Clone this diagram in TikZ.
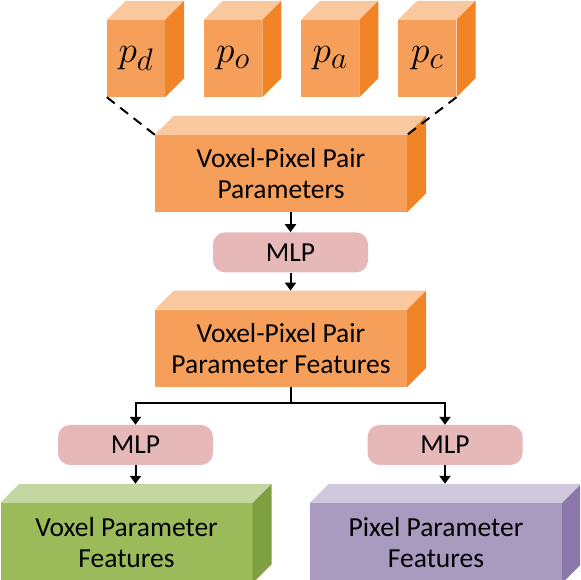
\documentclass[tikz,border=0pt]{standalone}
\usepackage{fontspec}
\setmainfont{Carlito}
\usepackage{tikz}
\usetikzlibrary{arrows.meta, positioning, calc}
\definecolor{orfront}{HTML}{F59F5A}
\definecolor{ortop}{HTML}{F9C89E}
\definecolor{orside}{HTML}{F08426}
\definecolor{mlpfill}{HTML}{E6B9B8}
\definecolor{grfront}{HTML}{9BBB5A}
\definecolor{grtop}{HTML}{C4D7A0}
\definecolor{grside}{HTML}{7FA040}
\definecolor{pufront}{HTML}{A99AC0}
\definecolor{putop}{HTML}{D0C8DD}
\definecolor{puside}{HTML}{8C77AA}
\tikzstyle{cube} = [rectangle, minimum width=58pt, minimum height=77pt, inner sep=0pt, fill=orfront, font=\fontsize{30}{30}\selectfont]
\tikzstyle{block} = [rectangle, minimum width=252pt, minimum height=77pt, inner sep=0pt, text centered, align=center, font=\fontsize{27.5}{31}\selectfont]
\tikzstyle{mlp} = [rectangle, rounded corners=12pt, minimum width=155pt, minimum height=40pt, inner sep=0pt, fill=mlpfill, font=\fontsize{27.5}{31}\selectfont]
\tikzstyle{arrow} = [line width=2pt, ->, >={Triangle[length=8pt,width=11pt]}]
\tikzstyle{link} = [line width=2pt, dash pattern=on 10pt off 7pt]

% top and side faces of a box node: #1 node, #2 top colour, #3 side colour
\newcommand{\boxfaces}[3]{%
  \fill[#2] (#1.north west) -- ++(19,19) -- ($(#1.north east)+(19,19)$) -- (#1.north east) -- cycle;
  \fill[#3] (#1.north east) -- ++(19,19) -- ($(#1.south east)+(19,19)$) -- (#1.south east) -- cycle;
  \coordinate (#1-back) at ($(#1.north)+(9.5,19)$);
}
% parameter symbol
\newcommand{\param}[1]{\scalebox{1.5}{$p_{#1}$}}

\begin{document}
\begin{tikzpicture}[x=1pt, y=1pt, node distance=38.7pt]
\clip (0,0) rectangle (580,580);

% Parameters
\node (pd) [cube] at (136,521.5) {\param{d}};
\node (po) [cube, right=of pd] {\param{o}};
\node (pa) [cube, right=of po] {\param{a}};
\node (pc) [cube, right=of pa] {\param{c}};
\foreach \n in {pd, po, pa, pc} {\boxfaces{\n}{ortop}{orside}}

% Main blocks
\node (pairs) [block, fill=orfront] at (281,406.5) {Voxel-Pixel Pair\\Parameters};
\node (mlp1) [mlp, below=20pt of pairs, xshift=9.5pt] {MLP};
\node (feats) [block, fill=orfront, below=37pt of mlp1, xshift=-9.5pt] {Voxel-Pixel Pair\\Parameter Features};
\boxfaces{pairs}{ortop}{orside}
\boxfaces{feats}{ortop}{orside}

% Branches
\node (mlpv) [mlp] at (135.5,135) {MLP};
\node (mlpp) [mlp] at (445,135) {MLP};
\node (voxel) [block, fill=grfront, minimum height=80pt] at (126.5,37) {Voxel Parameter\\Features};
\node (pixel) [block, fill=pufront, minimum height=80pt] at (436,37) {Pixel Parameter\\Features};
\boxfaces{voxel}{grtop}{grside}
\boxfaces{pixel}{putop}{puside}

% Dashed links
\draw [link] (pd.south west) -- (pairs.north west);
\draw [link] (pc.south east) -- (pairs.north east);

% Arrows
\draw [arrow] (mlp1 |- pairs.south) -- (mlp1.north);
\draw [arrow] (mlp1.south) -- (feats-back);
\coordinate (split) at ($(feats-back |- feats.south)+(0,-16)$);
\draw [line width=2pt] (feats-back |- feats.south) -- (split);
\draw [arrow] (split) -| (mlpv.north);
\draw [arrow] (split) -| (mlpp.north);
\draw [arrow] (mlpv.south) -- (mlpv.south |- voxel-back);
\draw [arrow] (mlpp.south) -- (mlpp.south |- pixel-back);

\end{tikzpicture}
\end{document}
